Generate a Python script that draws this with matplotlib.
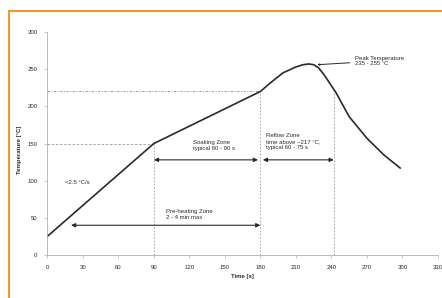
import matplotlib.pyplot as plt
from matplotlib.lines import Line2D

# Reflow profile
time_s = [0, 90, 180, 188, 199, 210, 216, 221, 225, 229, 234, 244, 255, 270, 284, 298]
temp_c = [25, 150, 220, 231, 245, 253, 256, 257, 256, 252, 242, 218, 186, 157, 135, 117]

x_ticks = list(range(0, 331, 30))
y_ticks = list(range(0, 301, 50))

# guide lines: (t, T)
soak_start = (90, 150)
reflow_start = (180, 220)
reflow_end = (242, 221)

# zone arrows: (t_left, t_right, T)
soak_arrow = (90, 178, 128)
reflow_arrow = (182, 242, 128)
preheat_arrow = (20, 180, 40)

plt.rcParams['font.family'] = ['Liberation Sans', 'DejaVu Sans']
fs = 4.3
ink = '#2a2a2a'
guide = '#9a9a9a'

fig = plt.figure(figsize=(4.42, 2.98), dpi=100)
fig.patch.set_facecolor('white')

# orange frame (cropped on the right and bottom)
fx, fy = 8.5 / 442, 1 - 10.5 / 298
fig.add_artist(Line2D([fx, fx], [0, fy], transform=fig.transFigure, color='#f7941d', lw=1.4))
fig.add_artist(Line2D([fx, 1], [fy, fy], transform=fig.transFigure, color='#f7941d', lw=1.4))

ax = fig.add_axes([47.3 / 442, 1 - 255 / 298, 390.7 / 442, 223 / 298])
ax.set_xlim(0, 330)
ax.set_ylim(0, 300)
ax.set_xticks(x_ticks)
ax.set_yticks(y_ticks)
for s in ['top', 'right']:
    ax.spines[s].set_visible(False)
for s in ['left', 'bottom']:
    ax.spines[s].set_color('#b0b0b0')
    ax.spines[s].set_linewidth(0.6)
ax.tick_params(labelsize=fs, length=2, width=0.5, color='#b0b0b0', labelcolor=ink, pad=5)

# dashed guides
ax.plot([0, reflow_start[0]], [reflow_start[1]] * 2, color=guide, lw=0.7, ls=(0, (2.5, 1.5, 1, 1.5)))
ax.plot([0, soak_start[0]], [soak_start[1]] * 2, color=guide, lw=0.6, ls=(0, (3, 2)))
for t, T in [soak_start, reflow_start, reflow_end]:
    ax.plot([t, t], [0, T], color=guide, lw=0.6, ls=(0, (2, 2)))

# profile
ax.plot(time_s, temp_c, color=ink, lw=1.2, solid_joinstyle='round')

arrow = dict(arrowstyle='<|-|>,head_length=0.25,head_width=0.12', color=ink, lw=0.8, shrinkA=0, shrinkB=0)
for t0, t1, T in [soak_arrow, reflow_arrow, preheat_arrow]:
    ax.annotate('', xy=(t0, T), xytext=(t1, T), arrowprops=arrow)

ax.annotate('Peak Temperature\n235 - 255 °C', xy=(228, 256), xytext=(260, 261),
            fontsize=fs, color=ink, va='center', ha='left',
            arrowprops=dict(arrowstyle='-|>,head_length=0.25,head_width=0.12', color=ink, lw=0.7,
                            shrinkA=2, shrinkB=0))

ax.text(15, 97, '<2.5 °C/s', fontsize=fs, color=ink, va='center')
ax.text(123, 147, 'Soaking Zone\ntypical 60 - 90 s', fontsize=fs, color=ink, va='center', linespacing=1.3)
ax.text(185, 152.5, 'Reflow Zone\ntime above ~217 °C,\ntypical 60 - 75 s', fontsize=fs, color=ink,
        va='center', linespacing=1.3)
ax.text(100, 54.5, 'Pre-heating Zone\n2 - 4 min max', fontsize=fs, color=ink, va='center', linespacing=1.3)

ax.set_xlabel('Time [s]', fontsize=fs, color=ink, fontweight='bold', labelpad=3)
ax.set_ylabel('Temperature [°C]', fontsize=fs, color=ink, fontweight='bold')
ax.yaxis.set_label_coords(-0.065, 0.47)

fig.savefig('out.png', dpi=100)
